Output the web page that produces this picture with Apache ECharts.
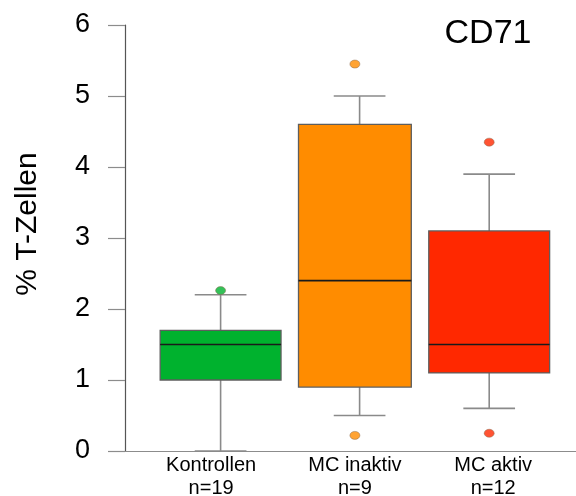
<!DOCTYPE html>
<html>
<head>
<meta charset="utf-8">
<script src="https://cdn.jsdelivr.net/npm/echarts@6/dist/echarts.min.js"></script>
<style>
  html, body { margin: 0; padding: 0; background: #fff; }
  #chart { width: 576px; height: 496px; }
</style>
</head>
<body>
<div id="chart"></div>
<script>
// ---- data ----
var categories = ['Kontrollen', 'MC inaktiv', 'MC aktiv'];
var counts = ['n=19', 'n=9', 'n=12'];
var lowerWhisker = [0.0, 0.5, 0.6];
var q1 = [1.0, 0.9, 1.1];
var median = [1.5, 2.4, 1.5];
var q3 = [1.7, 4.6, 3.1];
var upperWhisker = [2.2, 5.0, 3.9];
var outlierGroup = [0, 1, 1, 2, 2];
var outlierValues = [2.26, 5.45, 0.22, 4.35, 0.25];
var yTickValues = [0, 1, 2, 3, 4, 5, 6];

// ---- styles ----
var boxColors = ['#00B22E', '#FF8C00', '#FF2800'];
var boxFrac = [0.90, 0.84, 0.90];
var whiskerShift = [0, 4.7, 0];
var capFrac = 0.385;
var labelPad = [[0, 19, 0, 0], [0, 0, 0, 0], [0, 0, 0, 8]];

var boxData = categories.map(function (c, i) {
  return [i, lowerWhisker[i], q1[i], median[i], q3[i], upperWhisker[i]];
});
var outlierData = outlierGroup.map(function (g, k) {
  return { value: [g, outlierValues[k]], itemStyle: { color: boxColors[g] } };
});

var labelFont = { fontFamily: 'Liberation Sans, Arial, sans-serif', fontSize: 20, lineHeight: 23, color: '#000' };
var rich = {};
labelPad.forEach(function (p, i) {
  rich['c' + i] = Object.assign({ padding: p }, labelFont);
});

var chart = echarts.init(document.getElementById('chart'), null, { renderer: 'canvas' });

var option = {
  backgroundColor: '#ffffff',
  animation: false,
  grid: [
    { left: 153.45, right: 19.65, top: 25, bottom: 45, outerBoundsMode: 'none', containLabel: false },
    { left: 125, right: 0, top: 25, bottom: 45, outerBoundsMode: 'none', containLabel: false }
  ],
  xAxis: [
    {
      type: 'category', gridIndex: 0,
      data: categories,
      axisLine: { show: false }, axisTick: { show: false },
      axisLabel: {
        interval: 0, margin: 3,
        fontFamily: 'Liberation Sans, Arial, sans-serif', fontSize: 20, lineHeight: 23, color: '#000',
        rich: rich,
        formatter: function (v, i) { return '{c' + i + '|' + v + '}\n{c' + i + '|' + counts[i] + '}'; }
      }
    },
    {
      type: 'value', gridIndex: 1, min: 0, max: 1,
      axisLine: { show: true, lineStyle: { color: '#8c8c8c', width: 1.2 } },
      axisTick: { show: false }, axisLabel: { show: false }, splitLine: { show: false }
    }
  ],
  yAxis: [
    {
      type: 'value', gridIndex: 0, min: 0, max: 6, interval: 1,
      axisLine: { show: false }, axisTick: { show: false }, axisLabel: { show: false }, splitLine: { show: false }
    },
    {
      type: 'value', gridIndex: 1, min: 0, max: 6, interval: 1,
      axisLine: { show: true, lineStyle: { color: '#555', width: 1.2 } },
      axisTick: { show: true, length: 17, lineStyle: { color: '#8c8c8c', width: 1.2 } },
      axisLabel: {
        margin: 35, fontFamily: 'Liberation Sans, Arial, sans-serif', fontSize: 27, color: '#000',
        formatter: function (v) { return yTickValues.indexOf(v) >= 0 ? String(v) : ''; }
      },
      splitLine: { show: false }
    }
  ],
  graphic: [
    {
      type: 'text', x: 28, y: 224, rotation: Math.PI / 2,
      style: {
        text: '% T-Zellen', fontFamily: 'Liberation Sans, Arial, sans-serif', fontSize: 30,
        fill: '#000', textAlign: 'center', textVerticalAlign: 'middle'
      }
    },
    {
      type: 'text', x: 488, y: 34,
      style: {
        text: 'CD71', fontFamily: 'Liberation Sans, Arial, sans-serif', fontSize: 34,
        fill: '#000', textAlign: 'center', textVerticalAlign: 'middle'
      }
    }
  ],
  series: [
    {
      type: 'custom', xAxisIndex: 0, yAxisIndex: 0,
      data: boxData,
      encode: { x: 0, y: [1, 2, 3, 4, 5] },
      clip: false,
      renderItem: function (params, api) {
        var i = api.value(0);
        var band = api.size([1, 0])[0];
        var cx = api.coord([i, 0])[0];
        var wx = cx + whiskerShift[i];
        var yMin = api.coord([i, api.value(1)])[1];
        var yQ1 = api.coord([i, api.value(2)])[1];
        var yMed = api.coord([i, api.value(3)])[1];
        var yQ3 = api.coord([i, api.value(4)])[1];
        var yMax = api.coord([i, api.value(5)])[1];
        var bw = band * boxFrac[i];
        var cw = band * capFrac;
        var whiskerStyle = { stroke: '#8a8a8a', lineWidth: 1.6 };
        return {
          type: 'group',
          children: [
            { type: 'line', shape: { x1: wx, y1: yMin, x2: wx, y2: yQ1 }, style: whiskerStyle },
            { type: 'line', shape: { x1: wx, y1: yQ3, x2: wx, y2: yMax }, style: whiskerStyle },
            { type: 'line', shape: { x1: wx - cw / 2, y1: yMin, x2: wx + cw / 2, y2: yMin }, style: whiskerStyle },
            { type: 'line', shape: { x1: wx - cw / 2, y1: yMax, x2: wx + cw / 2, y2: yMax }, style: whiskerStyle },
            {
              type: 'rect',
              shape: { x: cx - bw / 2, y: yQ3, width: bw, height: yQ1 - yQ3 },
              style: { fill: boxColors[i], stroke: '#5e5e5e', lineWidth: 1.3 }
            },
            {
              type: 'line',
              shape: { x1: cx - bw / 2, y1: yMed, x2: cx + bw / 2, y2: yMed },
              style: { stroke: '#1a1a1a', lineWidth: 1.6 }
            }
          ]
        };
      }
    },
    {
      type: 'scatter', xAxisIndex: 0, yAxisIndex: 0,
      data: outlierData,
      symbol: 'circle', symbolSize: [10, 8],
      itemStyle: { borderColor: '#8a6a50', borderWidth: 0.6 },
      clip: false
    }
  ]
};
chart.setOption(option);
</script>
</body>
</html>
